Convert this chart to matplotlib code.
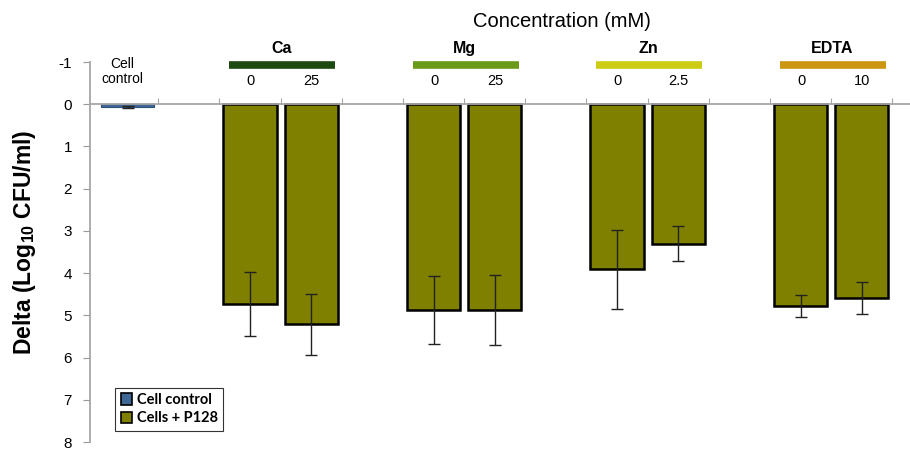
#!/usr/bin/env python3

"""Delta log10 CFU/ml bar chart for cells + P128 with metal ions / EDTA."""

import matplotlib
matplotlib.use('Agg')
import matplotlib.pyplot as plt

# data
categories = ['Cell control', '', 'Ca 0', 'Ca 25', '', 'Mg 0', 'Mg 25',
              '', 'Zn 0', 'Zn 2.5', '', 'EDTA 0', 'EDTA 10']
delta = [0.07, None, 4.74, 5.21, None, 4.88, 4.88,
         None, 3.91, 3.30, None, 4.78, 4.58]
delta_err = [0.03, None, 0.76, 0.72, None, 0.81, 0.83,
             None, 0.93, 0.42, None, 0.27, 0.38]
groups = ['Ca', 'Mg', 'Zn', 'EDTA']
group_colors = ['#1d4a12', '#6b9a1a', '#cccc14', '#cc9612']
group_pos = [2.5, 5.5, 8.5, 11.5]
conc_labels = ['0', '25', '0', '25', '0', '2.5', '0', '10']
conc_pos = [2, 3, 5, 6, 8, 9, 11, 12]
yticks = [-1, 0, 1, 2, 3, 4, 5, 6, 7, 8]

plt.rcParams['font.family'] = ['Liberation Sans', 'DejaVu Sans']
plt.rcParams['axes.unicode_minus'] = False
plt.rcParams['mathtext.fontset'] = 'custom'
plt.rcParams['mathtext.rm'] = 'Liberation Sans'
plt.rcParams['mathtext.bf'] = 'Liberation Sans:bold'

fig = plt.figure(figsize=(9.1, 4.5), dpi=100)
ax = fig.add_axes([90 / 910, 8 / 450, 820 / 910, 380 / 450])

bar_width = 0.867
for i, (val, err) in enumerate(zip(delta, delta_err)):
    if val is None:
        continue
    if i == 0:
        ax.bar(i, val, width=bar_width, color='#3f6796', edgecolor='#2f4f78',
               linewidth=0.8, label='Cell control')
    else:
        ax.bar(i, val, width=bar_width, color='#808000', edgecolor='black',
               linewidth=1.8, label='Cells + P128' if i == 2 else None)
    ax.errorbar(i, val, yerr=err, ecolor='#222222', elinewidth=1.0,
                capsize=4, capthick=1.0, fmt='none')

ax.set_ylim(8, -1)
ax.set_xlim(-0.616, 12.79)
ax.set_yticks(yticks)
ax.tick_params(axis='y', colors='#999999', labelcolor='black', length=5,
               labelsize=11, pad=8)

# zero line with upward ticks between categories
ax.spines['top'].set_position(('data', 0))
ax.spines['top'].set_color('#a6a6a6')
ax.spines['top'].set_linewidth(1.3)
ax.spines['left'].set_color('#a6a6a6')
ax.spines['left'].set_linewidth(1.3)
ax.spines['bottom'].set_visible(False)
ax.spines['right'].set_visible(False)
ax.xaxis.set_ticks_position('top')
ax.set_xticks([i + 0.5 for i in range(13)])
ax.tick_params(axis='x', direction='out', colors='#a6a6a6', length=4,
               labeltop=False, labelbottom=False)
ax.set_axisbelow(True)

ax.set_ylabel('Delta (Log$_{\\mathbf{10}}$ CFU/ml)', fontsize=16.5,
              fontweight='bold')
ax.yaxis.set_label_coords(-0.063, 0.525)

# header annotations above the plot
ax.text(7.10, -1.97, 'Concentration (mM)', ha='center', va='center',
        fontsize=14.5, clip_on=False)
ax.text(-0.09, -0.78, 'Cell\ncontrol', ha='center', va='center',
        fontsize=10, linespacing=1.1, clip_on=False)
for name, col, pos in zip(groups, group_colors, group_pos):
    ax.plot([pos - 0.84, pos + 0.89], [-0.93, -0.93], color=col,
            linewidth=5.5, solid_capstyle='butt', clip_on=False)
    ax.text(pos + 0.01, -1.33, name, ha='center', va='center',
            fontsize=11.5, fontweight='bold', clip_on=False)
for lbl, pos in zip(conc_labels, conc_pos):
    ax.text(pos + 0.01, -0.55, lbl, ha='center', va='center',
            fontsize=10.5, clip_on=False)

leg = ax.legend(loc='lower left', bbox_to_anchor=(0.031, 0.03),
                prop={'family': 'Lato', 'weight': 'bold', 'size': 10.5},
                frameon=True, fancybox=False, handlelength=0.8,
                handleheight=0.8, handletextpad=0.3, borderpad=0.35,
                labelspacing=0.3, borderaxespad=0)
leg.get_frame().set_edgecolor('black')
leg.get_frame().set_linewidth(0.8)
for h in leg.legend_handles:
    h.set_edgecolor('black')
    h.set_linewidth(1.2)

fig.savefig('out.png', dpi=100)
